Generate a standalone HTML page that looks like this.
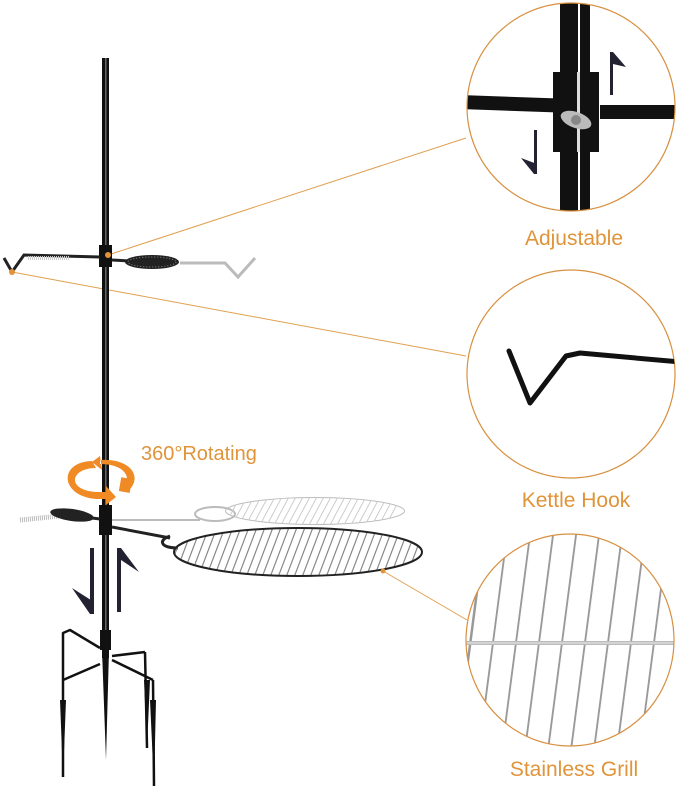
<!DOCTYPE html>
<html><head><meta charset="utf-8"><style>
html,body{margin:0;padding:0;background:#fff;}
svg{display:block}
text{font-family:"Liberation Sans","DejaVu Sans",sans-serif;fill:#e0943a}
</style></head><body>
<svg width="679" height="786" viewBox="0 0 679 786" xmlns="http://www.w3.org/2000/svg">
<defs>
<clipPath id="c1"><circle cx="571" cy="107" r="104"/></clipPath>
<clipPath id="c2"><circle cx="571" cy="374" r="104"/></clipPath>
<clipPath id="c3"><ellipse cx="570" cy="640" rx="104" ry="106"/></clipPath>
<clipPath id="g1"><ellipse cx="298" cy="552" rx="124" ry="24"/></clipPath>
<clipPath id="g2"><ellipse cx="315" cy="511" rx="90" ry="14"/></clipPath>
</defs>

<line x1="108" y1="255" x2="466" y2="138" stroke="#e0a050" stroke-width="1"/>
<line x1="12" y1="272" x2="466" y2="356" stroke="#e0a050" stroke-width="1"/>
<line x1="383" y1="571" x2="467" y2="620" stroke="#e0a050" stroke-width="1"/>

<!-- main pole -->
<rect x="102" y="58" width="7" height="600" fill="#111"/>
<rect x="105" y="58" width="1.5" height="600" fill="#666"/>
<rect x="99" y="245" width="13" height="22" fill="#111"/>
<rect x="99" y="505" width="13" height="30" fill="#111"/>
<rect x="100" y="630" width="11" height="20" fill="#111"/>

<!-- upper arm -->
<polyline points="4,258 12,272 24,255 100,257" fill="none" stroke="#222" stroke-width="3"/>
<line x1="28" y1="258" x2="70" y2="258" stroke="#ccc" stroke-width="4" stroke-dasharray="1,1"/>
<line x1="112" y1="260" x2="130" y2="261" stroke="#222" stroke-width="3"/>
<ellipse cx="152" cy="262" rx="27" ry="7" fill="#222"/>
<ellipse cx="152" cy="262" rx="24" ry="5" fill="none" stroke="#888" stroke-width="1" stroke-dasharray="1,2"/>
<polyline points="180,263 225,263 238,277 255,258" fill="none" stroke="#bbb" stroke-width="3"/>
<circle cx="108" cy="255" r="3" fill="#e0943a"/>
<circle cx="12" cy="272" r="3" fill="#e0943a"/>

<!-- rotating arrow -->
<text x="141" y="460" font-size="20">360°Rotating</text>
<path d="M96,468 C70,468 66,490 96,492 L106,492 L106,486 L116,497 L106,505 L106,499 L96,499 C60,496 58,462 92,461 Z" fill="#f08a24"/>
<path d="M100,460 L100,464 C125,464 132,478 124,487 L130,489 C142,476 130,458 100,460 Z M92,462 L100,456 L102,470 Z" fill="#f08a24"/>
<rect x="120" y="478" width="11" height="14" fill="#f08a24" transform="rotate(10 125 485)"/>

<!-- lower arm -->
<line x1="20" y1="520" x2="60" y2="516" stroke="#bbb" stroke-width="5" stroke-dasharray="1,1"/>
<ellipse cx="72" cy="515" rx="22" ry="6" fill="#222" transform="rotate(8 72 515)"/>
<line x1="92" y1="518" x2="100" y2="519" stroke="#222" stroke-width="3"/>
<line x1="112" y1="520" x2="200" y2="520" stroke="#bbb" stroke-width="2"/>
<ellipse cx="215" cy="514" rx="20" ry="7" fill="none" stroke="#bbb" stroke-width="2"/>
<g clip-path="url(#g2)" stroke="#ccc" stroke-width="1">
<ellipse cx="315" cy="511" rx="90" ry="14" fill="none" stroke="#bbb" stroke-width="2"/>
<path d="M225,525 l16,-30 M232,525 l16,-30 M239,525 l16,-30 M246,525 l16,-30 M253,525 l16,-30 M260,525 l16,-30 M267,525 l16,-30 M274,525 l16,-30 M281,525 l16,-30 M288,525 l16,-30 M295,525 l16,-30 M302,525 l16,-30 M309,525 l16,-30 M316,525 l16,-30 M323,525 l16,-30 M330,525 l16,-30 M337,525 l16,-30 M344,525 l16,-30 M351,525 l16,-30 M358,525 l16,-30 M365,525 l16,-30 M372,525 l16,-30 M379,525 l16,-30 M386,525 l16,-30"/>
</g>
<polyline points="112,527 170,538" fill="none" stroke="#222" stroke-width="3"/>
<path d="M170,536 C158,540 160,548 178,548" fill="none" stroke="#222" stroke-width="3"/>
<g clip-path="url(#g1)" stroke="#888" stroke-width="1.2">
<path d="M165,580 l22,-58 M173,580 l22,-58 M181,580 l22,-58 M189,580 l22,-58 M197,580 l22,-58 M205,580 l22,-58 M213,580 l22,-58 M221,580 l22,-58 M229,580 l22,-58 M237,580 l22,-58 M245,580 l22,-58 M253,580 l22,-58 M261,580 l22,-58 M269,580 l22,-58 M277,580 l22,-58 M285,580 l22,-58 M293,580 l22,-58 M301,580 l22,-58 M309,580 l22,-58 M317,580 l22,-58 M325,580 l22,-58 M333,580 l22,-58 M341,580 l22,-58 M349,580 l22,-58 M357,580 l22,-58 M365,580 l22,-58 M373,580 l22,-58 M381,580 l22,-58 M389,580 l22,-58 M397,580 l22,-58 M405,580 l22,-58"/>
</g>
<ellipse cx="298" cy="552" rx="124" ry="24" fill="none" stroke="#222" stroke-width="2"/>
<circle cx="383" cy="571" r="2.5" fill="#e0943a"/>

<!-- up/down arrows near pole -->
<rect x="90" y="548" width="4" height="66" fill="#223"/>
<polygon points="94,614 94,602 72,588 90,614" fill="#223"/>
<rect x="117" y="548" width="4" height="64" fill="#223"/>
<polygon points="117,548 121,548 139,572 121,560" fill="#223"/>

<!-- legs -->
<g fill="none" stroke="#111" stroke-width="2.5" stroke-linejoin="round">
<polyline points="63,777 63,633 70,630 100,648"/>
<line x1="63" y1="680" x2="100" y2="664"/>
<line x1="112" y1="656" x2="145" y2="652"/>
<line x1="112" y1="660" x2="153" y2="680"/>
<polyline points="145,652 147,748"/>
<polyline points="153,680 154,786"/>
</g>
<polygon points="60,700 66,700 63,778" fill="#111"/>
<polygon points="150,700 156,700 154,786" fill="#111"/>
<polygon points="144,680 150,680 147,748" fill="#111"/>
<polygon points="102,650 109,650 106,760" fill="#111"/>

<!-- circle 1 -->
<g clip-path="url(#c1)">
<rect x="460" y="0" width="220" height="220" fill="#fff"/>
<rect x="560" y="0" width="18" height="220" fill="#111"/>
<rect x="580" y="0" width="10" height="220" fill="#111"/>
<rect x="466" y="97" width="100" height="14" fill="#111" transform="rotate(2 516 104)"/>
<rect x="600" y="105" width="80" height="14" fill="#111"/>
<rect x="553" y="72" width="46" height="80" fill="#111"/>
<rect x="577" y="72" width="3" height="80" fill="#ddd"/>
<ellipse cx="576" cy="120" rx="16" ry="8" fill="#bbb" transform="rotate(20 576 120)"/>
<circle cx="576" cy="120" r="5" fill="#888"/>
<rect x="610" y="52" width="3" height="43" fill="#223"/>
<polygon points="610,52 613,52 626,67 613,64" fill="#223"/>
<rect x="534" y="130" width="3" height="44" fill="#223"/>
<polygon points="534,174 537,174 537,164 521,158" fill="#223"/>
</g>
<circle cx="571" cy="107" r="104" fill="none" stroke="#d89040" stroke-width="1.2"/>
<text x="574" y="245" font-size="21" text-anchor="middle">Adjustable</text>

<!-- circle 2 -->
<circle cx="571" cy="374" r="104" fill="#fff" stroke="#d89040" stroke-width="1.2"/>
<g clip-path="url(#c2)">
<polyline points="509,351 530,403 566,356 580,353 680,362" fill="none" stroke="#111" stroke-width="5" stroke-linejoin="round" stroke-linecap="round"/>
</g>
<text x="576" y="507" font-size="21" text-anchor="middle">Kettle Hook</text>

<!-- circle 3 -->
<g clip-path="url(#c3)">
<rect x="460" y="530" width="220" height="220" fill="#fff"/>
<g stroke="#999" stroke-width="2.5">
<path d="M478,760 l30,-230 M501,760 l30,-230 M524,760 l30,-230 M547,760 l30,-230 M570,760 l30,-230 M593,760 l30,-230 M616,760 l30,-230 M639,760 l30,-230 M662,760 l30,-230 M455,760 l30,-230"/>
</g>
<g stroke="#fff" stroke-width="0.8">
<path d="M479,760 l30,-230 M502,760 l30,-230 M525,760 l30,-230 M548,760 l30,-230 M571,760 l30,-230 M594,760 l30,-230 M617,760 l30,-230 M640,760 l30,-230 M663,760 l30,-230"/>
</g>
<rect x="460" y="641" width="220" height="4" fill="#bbb"/>
<line x1="460" y1="643" x2="680" y2="643" stroke="#eee" stroke-width="1"/>
</g>
<ellipse cx="570" cy="640" rx="104" ry="106" fill="none" stroke="#d89040" stroke-width="1.2"/>
<text x="574" y="776" font-size="21" text-anchor="middle">Stainless Grill</text>
</svg>
</body></html>
